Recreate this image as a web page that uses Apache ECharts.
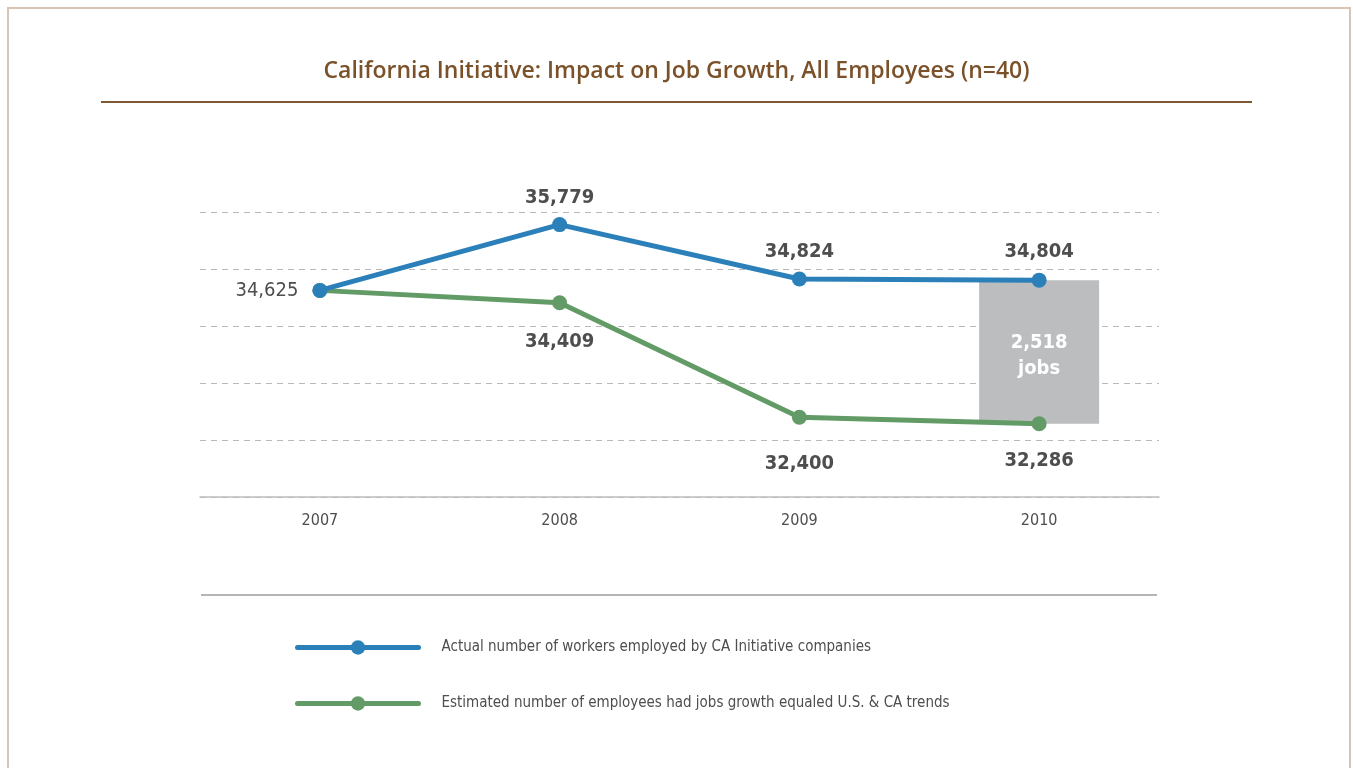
<!DOCTYPE html>
<html>
<head>
<meta charset="utf-8">
<title>California Initiative: Impact on Job Growth</title>
<script src="https://cdn.jsdelivr.net/npm/echarts@6/dist/echarts.min.js"></script>
<style>
  html, body { margin: 0; padding: 0; background: #ffffff; }
  #chart { width: 1353px; height: 768px; }
</style>
</head>
<body>
<div id="chart"></div>
<script>
// Years on the horizontal axis
const years = ['2007', '2008', '2009', '2010'];
// Actual number of workers employed by CA Initiative companies
const actualWorkers = [34625, 35779, 34824, 34804];
// Estimated employees had job growth equaled U.S. & CA trends
const estimatedTrend = [34625, 34409, 32400, 32286];
// Vertical scale
const yMin = 31000;
const yMax = 36000;
const yStep = 1000;

const actualName = 'Actual number of workers employed by CA Initiative companies';
const estimatedName = 'Estimated number of employees had jobs growth equaled U.S. & CA trends';

const NARROW = '"Liberation Sans Narrow", "DejaVu Sans Condensed", "Arial Narrow", sans-serif';
const BLUE = '#2b80b9';
const GREEN = '#629b66';
const LABEL_COLOR = '#4e4e4e';
const TICK_COLOR = '#b0b0b0';

const fmt = v => v.toLocaleString('en-US');

// Label placement for each point of the two lines
const actualLabels = [
  { position: 'left', distance: 14, fontWeight: 'normal' },
  { position: 'top', distance: 9, fontWeight: 'bold' },
  { position: 'top', distance: 10, fontWeight: 'bold' },
  { position: 'top', distance: 11, fontWeight: 'bold' }
];
const estimatedLabels = [
  { show: false },
  { position: 'bottom', distance: 22, fontWeight: 'bold' },
  { position: 'bottom', distance: 29, fontWeight: 'bold' },
  { position: 'bottom', distance: 20, fontWeight: 'bold' }
];

function pointData(values, labels) {
  return values.map((v, i) => ({ value: v, label: labels[i] }));
}

// The gap between the two lines in the final year
const last = years.length - 1;
const gapJobs = actualWorkers[last] - estimatedTrend[last];
const gapBase = years.map((y, i) => (i === last ? estimatedTrend[last] : '-'));
const gapSize = years.map((y, i) => (i === last ? gapJobs : '-'));

const chart = echarts.init(document.getElementById('chart'), null, { renderer: 'canvas' });

const option = {
  backgroundColor: '#ffffff',
  animation: false,
  title: {
    text: 'California Initiative: Impact on Job Growth, All Employees (n=40)',
    left: 'center',
    top: 56,
    padding: 0,
    textStyle: {
      fontFamily: '"Open Sans", "Noto Sans", sans-serif',
      fontWeight: 600,
      fontSize: 23,
      lineHeight: 30,
      color: '#7a5129'
    }
  },
  legend: {
    orient: 'vertical',
    left: 295,
    top: 640,
    padding: 0,
    itemWidth: 121,
    itemHeight: 18,
    itemGap: 41,
    data: [actualName, estimatedName],
    selectedMode: false,
    lineStyle: { width: 5, cap: 'round' },
    textStyle: {
      fontFamily: NARROW,
      fontSize: 15,
      color: LABEL_COLOR,
      padding: [0, 0, 0, 18]
    }
  },
  grid: { left: 200, right: 194, top: 212, bottom: 271 },
  xAxis: [
    {
      type: 'category',
      data: years,
      position: 'bottom',
      axisLine: { lineStyle: { color: '#bdbdbd', width: 1.5 } },
      axisTick: { alignWithLabel: true, length: 9, lineStyle: { color: TICK_COLOR, width: 1.5 } },
      axisLabel: {
        margin: 16,
        fontFamily: NARROW,
        fontSize: 16,
        color: LABEL_COLOR
      }
    },
    {
      type: 'category',
      data: years,
      position: 'bottom',
      axisLine: { show: false },
      axisTick: { alignWithLabel: true, inside: true, length: 10, lineStyle: { color: TICK_COLOR, width: 1.5 } },
      axisLabel: { show: false }
    }
  ],
  yAxis: {
    type: 'value',
    min: yMin,
    max: yMax,
    interval: yStep,
    axisLine: { show: false },
    axisTick: { show: false },
    axisLabel: { show: false },
    splitLine: {
      lineStyle: { color: '#b8b8b8', width: 1.2, type: [6, 5] }
    }
  },
  series: [
    {
      name: 'gap-base',
      type: 'bar',
      stack: 'gap',
      barWidth: 120,
      silent: true,
      z: 1,
      itemStyle: { color: 'rgba(0,0,0,0)' },
      data: gapBase
    },
    {
      name: 'gap',
      type: 'bar',
      stack: 'gap',
      barWidth: 120,
      silent: true,
      z: 1,
      itemStyle: { color: '#bcbdbf' },
      label: {
        show: true,
        position: 'inside',
        offset: [0, 4],
        formatter: () => fmt(gapJobs) + '\njobs',
        fontFamily: NARROW,
        fontWeight: 'bold',
        fontSize: 20,
        lineHeight: 26,
        color: '#ffffff'
      },
      data: gapSize
    },
    {
      name: estimatedName,
      type: 'line',
      z: 3,
      symbol: 'circle',
      symbolSize: 15,
      lineStyle: { color: GREEN, width: 5 },
      itemStyle: { color: GREEN },
      label: {
        show: true,
        formatter: p => fmt(p.value),
        fontFamily: NARROW,
        fontSize: 20,
        color: LABEL_COLOR
      },
      data: pointData(estimatedTrend, estimatedLabels)
    },
    {
      name: actualName,
      type: 'line',
      z: 4,
      symbol: 'circle',
      symbolSize: 15,
      lineStyle: { color: BLUE, width: 5 },
      itemStyle: { color: BLUE },
      label: {
        show: true,
        formatter: p => fmt(p.value),
        fontFamily: NARROW,
        fontSize: 20,
        color: LABEL_COLOR
      },
      data: pointData(actualWorkers, actualLabels)
    }
  ],
  graphic: [
    {
      type: 'rect',
      silent: true,
      shape: { x: 8, y: 8, width: 1342, height: 800 },
      style: { fill: 'none', stroke: '#d8c4b5', lineWidth: 2 }
    },
    {
      type: 'line',
      silent: true,
      shape: { x1: 101, y1: 102, x2: 1252, y2: 102 },
      style: { stroke: '#7d5832', lineWidth: 2 }
    },
    {
      type: 'line',
      silent: true,
      shape: { x1: 201, y1: 595, x2: 1157, y2: 595 },
      style: { stroke: '#9d9d9d', lineWidth: 1.5 }
    }
  ]
};

chart.setOption(option);
</script>
</body>
</html>
